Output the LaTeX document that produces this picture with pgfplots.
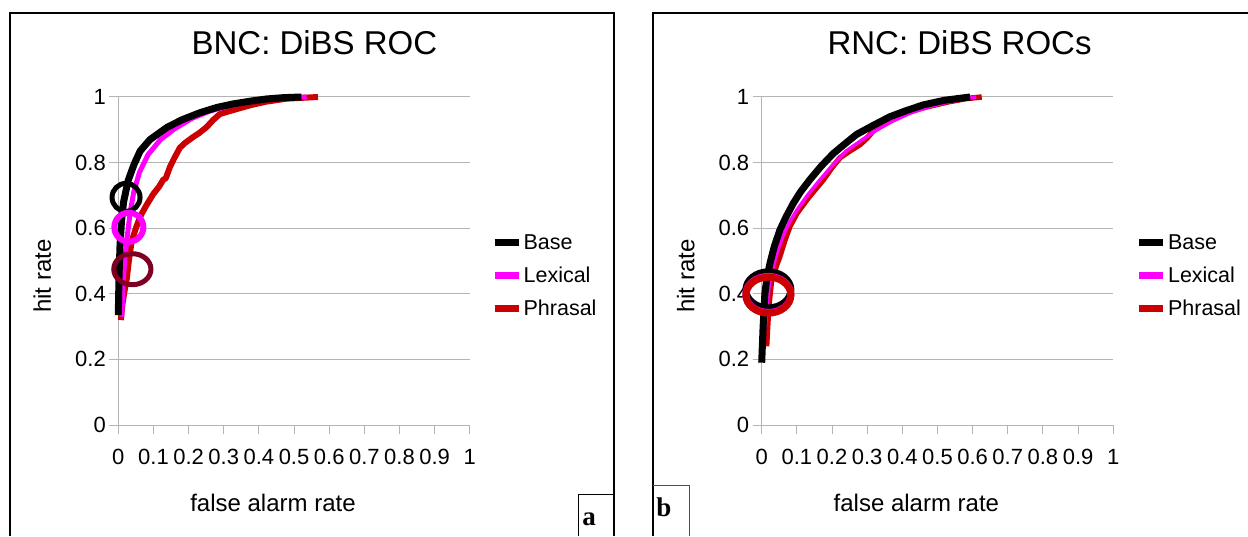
\documentclass[border=0pt]{standalone}
\usepackage{pgfplots}
\pgfplotsset{compat=1.18}
\usepackage{fontspec}
\setmainfont{Liberation Sans}
\newfontfamily\serifb{Liberation Serif}
\definecolor{phr}{HTML}{CC0000}
\definecolor{mag}{HTML}{FF00FF}
\definecolor{mar}{HTML}{7D0022}
\definecolor{gridc}{HTML}{B4B4B4}
\pgfplotsset{
  roc/.style={
    scale only axis, width=351.5pt, height=328pt, anchor=south west,
    xmin=0, xmax=1, ymin=0, ymax=1,
    axis x line=bottom, axis y line=left,
    axis line style={gridc, line width=1pt, -},
    xtick={0,0.1,...,1}, ytick={0,0.2,...,1},
    xticklabels={0,0.1,0.2,0.3,0.4,0.5,0.6,0.7,0.8,0.9,1},
    yticklabels={0,0.2,0.4,0.6,0.8,1},
    tick align=outside, major tick length=9pt,
    tick style={gridc, line width=1pt},
    ymajorgrids, grid style={gridc, line width=1pt},
    /pgf/number format/assume math mode=true,
    ticklabel style={font=\fontsize{22}{26}\selectfont},
    xticklabel style={yshift=-12pt},
    title style={font=\fontsize{33}{38}\selectfont, anchor=center},
    xlabel style={font=\fontsize{24}{28}\selectfont, at={(axis description cs:0.44,-0.238)}, anchor=center},
    ylabel style={font=\fontsize{24}{28}\selectfont, at={(axis description cs:-0.216,0.454)}, anchor=center},
    xlabel={false alarm rate}, ylabel={hit rate},
    clip=false,
    legend style={draw=none, fill=none, font=\fontsize{21.5}{26}\selectfont, anchor=west,
      row sep=13pt, inner sep=0pt, nodes={inner sep=1.5pt}},
    legend cell align=left,
    legend image code/.code={\draw[line width=7pt, line cap=butt] (0pt,0pt) -- (24pt,0pt);},
    reverse legend,
  },
  curve/.style={no marks, line join=round, line cap=butt},
  ring/.style={only marks, mark=o, forget plot},
}
\begin{document}
\begin{tikzpicture}[x=1pt,y=1pt]
\path[use as bounding box] (0,0) rectangle (1248,536);
\fill[white] (0,0) rectangle (1248,536);
% panel frames
\draw[line width=1.6pt] (10,0) -- (10,523) -- (614,523) -- (614,0);
\draw[line width=1.6pt] (653,0) -- (653,523) -- (1248,523);
% ---------------- left panel ----------------
\begin{axis}[roc, at={(118.3pt,111pt)},
  title={BNC: DiBS ROC}, title style={at={(axis description cs:0.558,1.146)}},
  legend style={at={(axis description cs:1.060,0.455)}}]
\addplot[curve, phr, line width=6pt] coordinates {
(0.007,0.32) (0.012,0.37) (0.018,0.41) (0.024,0.445) (0.030,0.50) (0.038,0.56)
(0.05,0.60) (0.062,0.635) (0.08,0.67) (0.10,0.705) (0.115,0.725) (0.128,0.748)
(0.135,0.752) (0.147,0.787) (0.16,0.815) (0.175,0.845) (0.19,0.86) (0.213,0.878)
(0.23,0.89) (0.251,0.908) (0.27,0.93) (0.289,0.948) (0.32,0.958) (0.346,0.966)
(0.38,0.976) (0.422,0.986) (0.479,0.995) (0.568,1.0)};
\addlegendentry{Phrasal}
\addplot[curve, mag, line width=5pt] coordinates {
(0.010,0.33) (0.013,0.42) (0.018,0.50) (0.026,0.58) (0.034,0.65) (0.044,0.71)
(0.060,0.77) (0.085,0.825) (0.12,0.870) (0.16,0.903) (0.21,0.935) (0.26,0.957)
(0.31,0.972) (0.36,0.983) (0.41,0.991) (0.47,0.997) (0.536,1.0)};
\addlegendentry{Lexical}
\addplot[curve, black, line width=7pt] coordinates {
(0,0.335) (0.002,0.45) (0.005,0.55) (0.009,0.62) (0.015,0.68) (0.028,0.745)
(0.045,0.795) (0.062,0.835) (0.09,0.87) (0.12,0.893) (0.138,0.907) (0.18,0.93)
(0.232,0.952) (0.28,0.968) (0.327,0.979) (0.38,0.988) (0.422,0.994) (0.47,0.998)
(0.521,1.0)};
\addlegendentry{Base}
\addplot[ring, black, mark size=14pt, mark options={line width=5pt}] coordinates {(0.022,0.694)};
\addplot[ring, mag, mark size=14.5pt, mark options={line width=6pt}] coordinates {(0.030,0.603)};
\addplot[ring, mar, mark size=15.5pt, mark options={line width=5pt, xscale=1.2}] coordinates {(0.040,0.475)};
\end{axis}
% ---------------- right panel ----------------
\begin{axis}[roc, at={(761.7pt,111pt)},
  title={RNC: DiBS ROCs}, title style={at={(axis description cs:0.563,1.146)}},
  legend style={at={(axis description cs:1.063,0.455)}}]
\addplot[curve, phr, line width=5.5pt] coordinates {
(0.014,0.24) (0.018,0.32) (0.022,0.38) (0.028,0.44) (0.04,0.48) (0.052,0.515)
(0.065,0.56) (0.08,0.605) (0.10,0.645) (0.128,0.686) (0.15,0.715) (0.175,0.747)
(0.2,0.785) (0.223,0.815) (0.25,0.835) (0.28,0.855) (0.30,0.875) (0.318,0.898)
(0.35,0.92) (0.385,0.94) (0.43,0.958) (0.47,0.970) (0.53,0.985) (0.58,0.995)
(0.626,1.0)};
\addlegendentry{Phrasal}
\addplot[curve, mag, line width=3.5pt] coordinates {
(0.01,0.30) (0.015,0.36) (0.022,0.43) (0.032,0.48) (0.045,0.53) (0.06,0.575)
(0.08,0.62) (0.10,0.655) (0.13,0.70) (0.16,0.74) (0.2,0.79) (0.24,0.835)
(0.28,0.865) (0.32,0.895) (0.37,0.925) (0.42,0.95) (0.47,0.968) (0.53,0.985)
(0.61,1.0)};
\addlegendentry{Lexical}
\addplot[curve, black, line width=7pt] coordinates {
(0,0.19) (0.004,0.30) (0.009,0.40) (0.015,0.45) (0.024,0.495) (0.036,0.545)
(0.052,0.595) (0.07,0.636) (0.09,0.676) (0.11,0.71) (0.137,0.748) (0.17,0.79)
(0.204,0.828) (0.24,0.86) (0.27,0.886) (0.32,0.915) (0.365,0.94) (0.41,0.958)
(0.46,0.976) (0.52,0.99) (0.593,1.0)};
\addlegendentry{Base}
\addplot[ring, black, mark size=18pt, mark options={line width=7pt, xscale=1.25}] coordinates {(0.019,0.412)};
\addplot[ring, mag, mark size=18pt, mark options={line width=7pt, xscale=1.25}] coordinates {(0.019,0.398)};
\addplot[ring, phr, mark size=18pt, mark options={line width=7pt, xscale=1.25}] coordinates {(0.019,0.396)};
\end{axis}
% labels a / b
\draw[line width=0.8pt] (578,0) -- (578,42) -- (614,42);
\node[font=\serifb\bfseries\fontsize{27}{30}\selectfont] at (589,17) {a};
\draw[line width=0.8pt, black!70] (653,51) -- (689,51) -- (689,0);
\node[font=\serifb\bfseries\fontsize{27}{30}\selectfont] at (664,29) {b};
\end{tikzpicture}
\end{document}
